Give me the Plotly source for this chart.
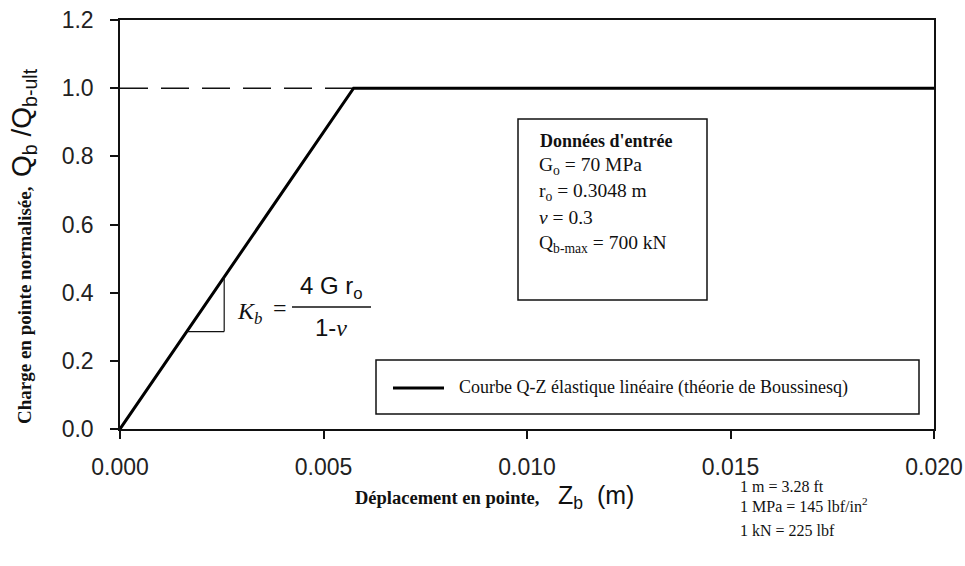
import plotly.graph_objects as go

# Q-Z curve: tip displacement (m) vs normalised tip load
disp = [0.0, 0.00574, 0.020]
load = [0.0, 1.0, 1.0]

# dashed reference at Q/Qult = 1
ref_x = [0.0, 0.00574]
ref_y = [1.0, 1.0]

x_ticks = [0.000, 0.005, 0.010, 0.015, 0.020]
x_ticklabels = ["0.000", "0.005", "0.010", "0.015", "0.020"]
y_ticks = [0.0, 0.2, 0.4, 0.6, 0.8, 1.0, 1.2]
y_ticklabels = ["0.0", "0.2", "0.4", "0.6", "0.8", "1.0", "1.2"]

# slope triangle legs (x positions along the elastic branch)
tri_x = [0.00164, 0.00256]
slope = load[1] / disp[1]

W, H = 965, 566
L, R, T, B = 120, 934, 20, 429


def px(x):
    return (x - L) / (R - L)


def py(y):
    return (B - y) / (B - T)


SANS = "Liberation Sans"
SERIF = "Liberation Serif"
INK = "#111111"

fig = go.Figure()

fig.add_trace(go.Scatter(
    x=ref_x, y=ref_y, mode="lines",
    line=dict(color=INK, width=1.5, dash="28px,13px"),
    hoverinfo="skip", showlegend=False,
))
fig.add_trace(go.Scatter(
    x=disp, y=load, mode="lines",
    line=dict(color="#000000", width=3),
    name="Courbe Q-Z élastique linéaire (théorie de Boussinesq)",
    showlegend=False,
))

shapes = []
# slope triangle
y_lo = slope * tri_x[0]
y_hi = slope * tri_x[1]
shapes.append(dict(type="line", xref="x", yref="y", x0=tri_x[0], y0=y_lo,
                   x1=tri_x[1], y1=y_lo, line=dict(color=INK, width=1.2)))
shapes.append(dict(type="line", xref="x", yref="y", x0=tri_x[1], y0=y_lo,
                   x1=tri_x[1], y1=y_hi, line=dict(color=INK, width=1.2)))
# fraction bar of the stiffness formula
shapes.append(dict(type="line", xref="paper", yref="paper", x0=px(292), y0=py(307),
                   x1=px(371), y1=py(307), line=dict(color=INK, width=1.5)))
# input data box
shapes.append(dict(type="rect", xref="paper", yref="paper", x0=px(518), y0=py(119),
                   x1=px(707), y1=py(300), line=dict(color=INK, width=1.5),
                   fillcolor="white", layer="below"))
# legend box
shapes.append(dict(type="rect", xref="paper", yref="paper", x0=px(376), y0=py(360),
                   x1=px(919), y1=py(414), line=dict(color=INK, width=1.5),
                   fillcolor="white", layer="below"))
shapes.append(dict(type="line", xref="paper", yref="paper", x0=px(393), y0=py(388),
                   x1=px(444), y1=py(388), line=dict(color="#000000", width=3)))

ann = []


def text(x, y, s, size, family=SERIF, xanchor="left", yanchor="middle", **kw):
    ann.append(dict(x=px(x), y=py(y), xref="paper", yref="paper", text=s,
                    showarrow=False, xanchor=xanchor, yanchor=yanchor,
                    font=dict(family=family, size=size, color=INK), **kw))


# stiffness formula
text(235, 313, "<i>K<sub>b</sub></i>", 24)
text(271, 308, "=", 24)
text(331, 287, "4 G r<sub>o</sub>", 24, family=SANS, xanchor="center")
text(331, 327, "1-<span style='font-family:Liberation Serif'><i>ν</i></span>", 24,
     family=SANS, xanchor="center")

# input data
text(538, 141, "<b>Données d'entrée</b>", 18)
text(537, 166, "G<sub>o</sub> = 70 MPa", 19.5)
text(537, 192, "r<sub>o</sub> = 0.3048 m", 19.5)
text(537, 217, "<i>ν</i> = 0.3", 19.5)
text(537, 244, "Q<sub>b-max</sub> = 700 kN", 19.5)

# legend entry
text(457, 387, "Courbe Q-Z élastique linéaire (théorie de Boussinesq)", 18)

# axis titles
text(353, 497,
     "<b>Déplacement en pointe,</b>    "
     "<span style='font-family:Liberation Sans;font-size:25px'>Z<sub>b</sub>  (m)</span>",
     18.5)
text(23, 246,
     "<b>Charge en pointe normalisée,</b>  "
     "<span style='font-family:Liberation Sans;font-size:28px'>Q<sub>b</sub> /Q<sub>b-ult</sub></span>",
     19, xanchor="center", textangle=-90)

# unit conversions
text(738, 486, "1 m = 3.28 ft", 16)
text(738, 505, "1 MPa = 145 lbf/in<sup>2</sup>", 16)
text(738, 530, "1 kN = 225 lbf", 16)

fig.update_layout(
    width=W, height=H,
    margin=dict(l=L, r=W - R, t=T, b=H - B, pad=0, autoexpand=False),
    plot_bgcolor="white", paper_bgcolor="white",
    shapes=shapes, annotations=ann,
    showlegend=False,
)
fig.update_xaxes(
    range=[0, 0.020], tickvals=x_ticks, ticktext=x_ticklabels,
    showgrid=False, zeroline=False, showline=True, mirror=True,
    linecolor=INK, linewidth=1.5, ticks="outside", ticklen=8, tickwidth=1.5,
    tickcolor=INK, ticklabelstandoff=9, automargin=False,
    tickfont=dict(family=SANS, size=23, color="#222222"),
)
fig.update_yaxes(
    range=[0, 1.2], tickvals=y_ticks, ticktext=y_ticklabels,
    showgrid=False, zeroline=False, showline=True, mirror=True,
    linecolor=INK, linewidth=1.5, ticks="outside", ticklen=8, tickwidth=1.5,
    tickcolor=INK, ticklabelstandoff=12, automargin=False,
    tickfont=dict(family=SANS, size=23, color="#222222"),
)

fig.write_html("out.html")
